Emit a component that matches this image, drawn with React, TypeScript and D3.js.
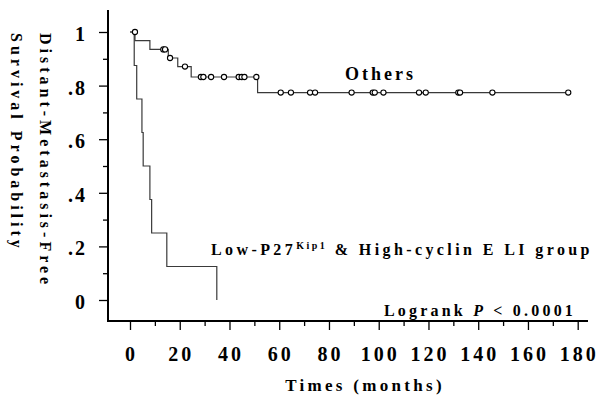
import React, { useEffect, useRef } from 'react';
import * as d3 from 'd3';

// step points (months, survival)
const othersTimes = [0, 2.0, 8.0, 15.4, 19.2, 24.6, 51.3, 176.2];
const othersSurv = [1, 0.968, 0.935, 0.903, 0.871, 0.832, 0.774, 0.774];
const othersCensored = [
  2.0, 13.4, 14.1, 16.1, 22.1, 28.5, 29.5, 32.6, 37.8, 43.7, 44.9, 46.0, 50.8,
  60.6, 64.7, 72.4, 74.4, 89.1, 97.6, 98.4, 101.9, 116.2, 118.9, 132.0, 132.7,
  145.7, 176.2,
];

const lowTimes = [0, 1.7, 2.7, 4.8, 5.3, 8.0, 8.7, 14.8, 34.9];
const lowSurv = [1, 0.875, 0.75, 0.625, 0.5, 0.375, 0.25, 0.125, 0];

const xTicks = [0, 20, 40, 60, 80, 100, 120, 140, 160, 180];
const xMinor = [10, 30, 50, 70, 90, 110, 130, 150, 170];
const yTicks = [0, 0.2, 0.4, 0.6, 0.8, 1];
const yTickLabels = ['0', '.2', '.4', '.6', '.8', '1'];
const yMinor = [0.1, 0.3, 0.5, 0.7, 0.9];

const FONT = "'Liberation Serif', 'Times New Roman', serif";

const App = () => {
  const svgRef = useRef<SVGSVGElement>(null);

  useEffect(() => {
    const svg = d3.select(svgRef.current);
    svg.selectAll('*').remove();

    const x = d3.scaleLinear().domain([0, 180]).range([130, 577.7]);
    const y = d3.scaleLinear().domain([0, 1]).range([300, 32]);
    const axisY = 321;
    const axisX = 108;

    // axes lines
    svg.append('line')
      .attr('x1', axisX).attr('x2', axisX).attr('y1', 10).attr('y2', axisY)
      .attr('stroke', '#000').attr('stroke-width', 2);
    svg.append('line')
      .attr('x1', axisX - 1).attr('x2', 588).attr('y1', axisY).attr('y2', axisY)
      .attr('stroke', '#000').attr('stroke-width', 2);

    // x ticks
    const gx = svg.append('g').attr('transform', `translate(0,${axisY})`)
      .call(d3.axisBottom(x).tickValues(xTicks).tickSize(9).tickFormat(() => ''));
    gx.select('.domain').remove();
    gx.selectAll('line').attr('stroke', '#000').attr('stroke-width', 1.3);
    const gxm = svg.append('g').attr('transform', `translate(0,${axisY})`)
      .call(d3.axisBottom(x).tickValues(xMinor).tickSize(5).tickFormat(() => ''));
    gxm.select('.domain').remove();
    gxm.selectAll('line').attr('stroke', '#000').attr('stroke-width', 1.3);

    svg.append('g').selectAll('text')
      .data(xTicks)
      .enter()
      .append('text')
      .attr('x', d => x(d) + 1.5)
      .attr('y', 361)
      .attr('text-anchor', 'middle')
      .attr('font-family', FONT)
      .attr('font-weight', 'bold')
      .attr('font-size', 20)
      .attr('letter-spacing', 3)
      .text(d => String(d));

    // y ticks
    const gy = svg.append('g').attr('transform', `translate(${axisX},0)`)
      .call(d3.axisLeft(y).tickValues(yTicks).tickSize(9).tickFormat(() => ''));
    gy.select('.domain').remove();
    gy.selectAll('line').attr('stroke', '#000').attr('stroke-width', 1.3);
    const gym = svg.append('g').attr('transform', `translate(${axisX},0)`)
      .call(d3.axisLeft(y).tickValues(yMinor).tickSize(5).tickFormat(() => ''));
    gym.select('.domain').remove();
    gym.selectAll('line').attr('stroke', '#000').attr('stroke-width', 1.3);

    svg.append('g').selectAll('text')
      .data(yTicks)
      .enter()
      .append('text')
      .attr('x', 87)
      .attr('y', d => y(d) + 9)
      .attr('text-anchor', 'end')
      .attr('font-family', FONT)
      .attr('font-weight', 'bold')
      .attr('font-size', 20)
      .attr('letter-spacing', 2)
      .text((d, i) => yTickLabels[i]);

    // axis titles
    svg.append('text')
      .attr('x', 365)
      .attr('y', 391)
      .attr('text-anchor', 'middle')
      .attr('font-family', FONT)
      .attr('font-weight', 'bold')
      .attr('font-size', 17)
      .attr('letter-spacing', 3.3)
      .text('Times (months)');

    svg.append('text')
      .attr('transform', 'translate(39.5,33) rotate(90)')
      .attr('font-family', FONT)
      .attr('font-weight', 'bold')
      .attr('font-size', 16)
      .attr('letter-spacing', 4)
      .text('Distant-Metastasis-Free');
    svg.append('text')
      .attr('transform', 'translate(10.5,33) rotate(90)')
      .attr('font-family', FONT)
      .attr('font-weight', 'bold')
      .attr('font-size', 16)
      .attr('letter-spacing', 4)
      .text('Survival Probability');

    // survival curves
    const line = d3.line<[number, number]>()
      .x(d => x(d[0]))
      .y(d => y(d[1]))
      .curve(d3.curveStepAfter);

    const othersPts = othersTimes.map((t, i) => [t, othersSurv[i]] as [number, number]);
    const lowPts = lowTimes.map((t, i) => [t, lowSurv[i]] as [number, number]);

    [othersPts, lowPts].forEach(pts => {
      svg.append('path')
        .attr('d', line(pts))
        .attr('fill', 'none')
        .attr('stroke', '#3a3a3a')
        .attr('stroke-width', 1.2);
    });

    // survival just before time t (censor marks sit on the level before a tie)
    const survAt = (t: number) => {
      let s = othersSurv[0];
      othersTimes.forEach((tt, i) => { if (tt < t) s = othersSurv[i]; });
      return s;
    };

    svg.append('g').selectAll('circle')
      .data(othersCensored)
      .enter()
      .append('circle')
      .attr('cx', d => x(d))
      .attr('cy', d => y(survAt(d)))
      .attr('r', 2.6)
      .attr('fill', '#fff')
      .attr('stroke', '#000')
      .attr('stroke-width', 1.1);

    // annotations
    svg.append('text')
      .attr('x', 345)
      .attr('y', 80)
      .attr('font-family', FONT)
      .attr('font-weight', 'bold')
      .attr('font-size', 18)
      .attr('letter-spacing', 3)
      .text('Others');

    const low = svg.append('text')
      .attr('x', 211)
      .attr('y', 255)
      .attr('font-family', FONT)
      .attr('font-weight', 'bold')
      .attr('font-size', 16)
      .attr('letter-spacing', 3.4);
    low.append('tspan').text('Low-P27');
    low.append('tspan').attr('font-size', 10).attr('dy', -6).attr('letter-spacing', 2.5).text('Kip1');
    low.append('tspan').attr('dy', 6).text(' & High-cyclin E LI group');

    const lr = svg.append('text')
      .attr('x', 384)
      .attr('y', 316)
      .attr('font-family', FONT)
      .attr('font-weight', 'bold')
      .attr('font-size', 16)
      .attr('letter-spacing', 3.2);
    lr.append('tspan').text('Logrank ');
    lr.append('tspan').attr('font-style', 'italic').text('P');
    lr.append('tspan').text(' < 0.0001');
  }, []);

  return (
    <svg
      ref={svgRef}
      width={616}
      height={396}
      style={{ position: 'absolute', left: 0, top: 0, background: '#fff' }}
    />
  );
};

export default App;
